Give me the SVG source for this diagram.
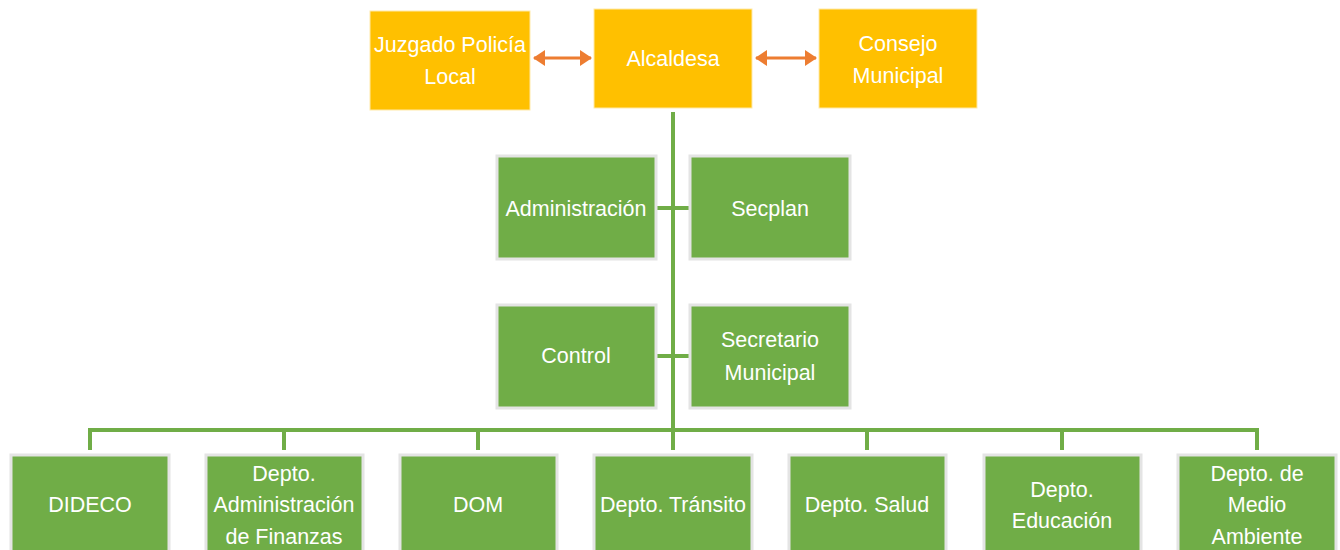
<svg xmlns="http://www.w3.org/2000/svg" width="1340" height="550" viewBox="0 0 1340 550">
<style>
.y{fill:#FFC000;stroke:#FFE9A8;stroke-width:1}
.g{fill:#70AD47;stroke:#E4E4E4;stroke-width:3}
.t{fill:#fff;font-family:"Liberation Sans",Arial,sans-serif;font-size:21.5px;text-anchor:middle;dominant-baseline:central}
.c{stroke:#70AD47;stroke-width:4;fill:none}
.a{stroke:#ED7D31;stroke-width:3;fill:none;marker-start:url(#ah);marker-end:url(#ah)}
</style>
<defs>
<marker id="ah" viewBox="0 0 12 16" refX="11" refY="8" markerWidth="12" markerHeight="16" orient="auto-start-reverse" markerUnits="userSpaceOnUse">
<path d="M0,0 L12,8 L0,16 z" fill="#ED7D31"/>
</marker>
</defs>
<rect width="1340" height="550" fill="#fff"/>
<g id="connectors">
<line class="a" x1="534" y1="58" x2="591" y2="58"/>
<line class="a" x1="756" y1="58" x2="816" y2="58"/>
<path class="c" d="M673,112 V430"/>
<path class="c" d="M656,208 H690 M656,356 H690"/>
<path class="c" d="M90,450 V430 H1257 V450"/>
<path class="c" d="M284,430 V450 M478,430 V450 M673,430 V450 M867,430 V450 M1062,430 V450"/>
</g>
<g id="juzgado"><rect class="y" x="370" y="11" width="160" height="99"/><text class="t" x="450" y="45">Juzgado Policía</text><text class="t" x="450" y="77">Local</text></g>
<g id="alcaldesa"><rect class="y" x="594" y="9" width="158" height="99"/><text class="t" x="673" y="59">Alcaldesa</text></g>
<g id="consejo"><rect class="y" x="819" y="9" width="158" height="99"/><text class="t" x="898" y="44">Consejo</text><text class="t" x="898" y="76">Municipal</text></g>
<g id="administracion"><rect class="g" x="497" y="156" width="159" height="103"/><text class="t" x="576" y="209">Administración</text></g>
<g id="secplan"><rect class="g" x="690" y="156" width="160" height="103"/><text class="t" x="770" y="209">Secplan</text></g>
<g id="control"><rect class="g" x="497" y="305" width="159" height="103"/><text class="t" x="576" y="356">Control</text></g>
<g id="secretario"><rect class="g" x="690" y="305" width="160" height="103"/><text class="t" x="770" y="340">Secretario</text><text class="t" x="770" y="373">Municipal</text></g>
<g id="dideco"><rect class="g" x="11" y="455" width="158" height="100"/><text class="t" x="90" y="505">DIDECO</text></g>
<g id="finanzas"><rect class="g" x="206" y="455" width="157" height="100"/><text class="t" x="284" y="474">Depto.</text><text class="t" x="284" y="505">Administración</text><text class="t" x="284" y="537">de Finanzas</text></g>
<g id="dom"><rect class="g" x="400" y="455" width="157" height="100"/><text class="t" x="478" y="505">DOM</text></g>
<g id="transito"><rect class="g" x="594" y="455" width="158" height="100"/><text class="t" x="673" y="505">Depto. Tránsito</text></g>
<g id="salud"><rect class="g" x="789" y="455" width="157" height="100"/><text class="t" x="867" y="505">Depto. Salud</text></g>
<g id="educacion"><rect class="g" x="984" y="455" width="157" height="100"/><text class="t" x="1062" y="490">Depto.</text><text class="t" x="1062" y="521">Educación</text></g>
<g id="ambiente"><rect class="g" x="1178" y="455" width="158" height="100"/><text class="t" x="1257" y="474">Depto. de</text><text class="t" x="1257" y="505">Medio</text><text class="t" x="1257" y="537">Ambiente</text></g>
</svg>
